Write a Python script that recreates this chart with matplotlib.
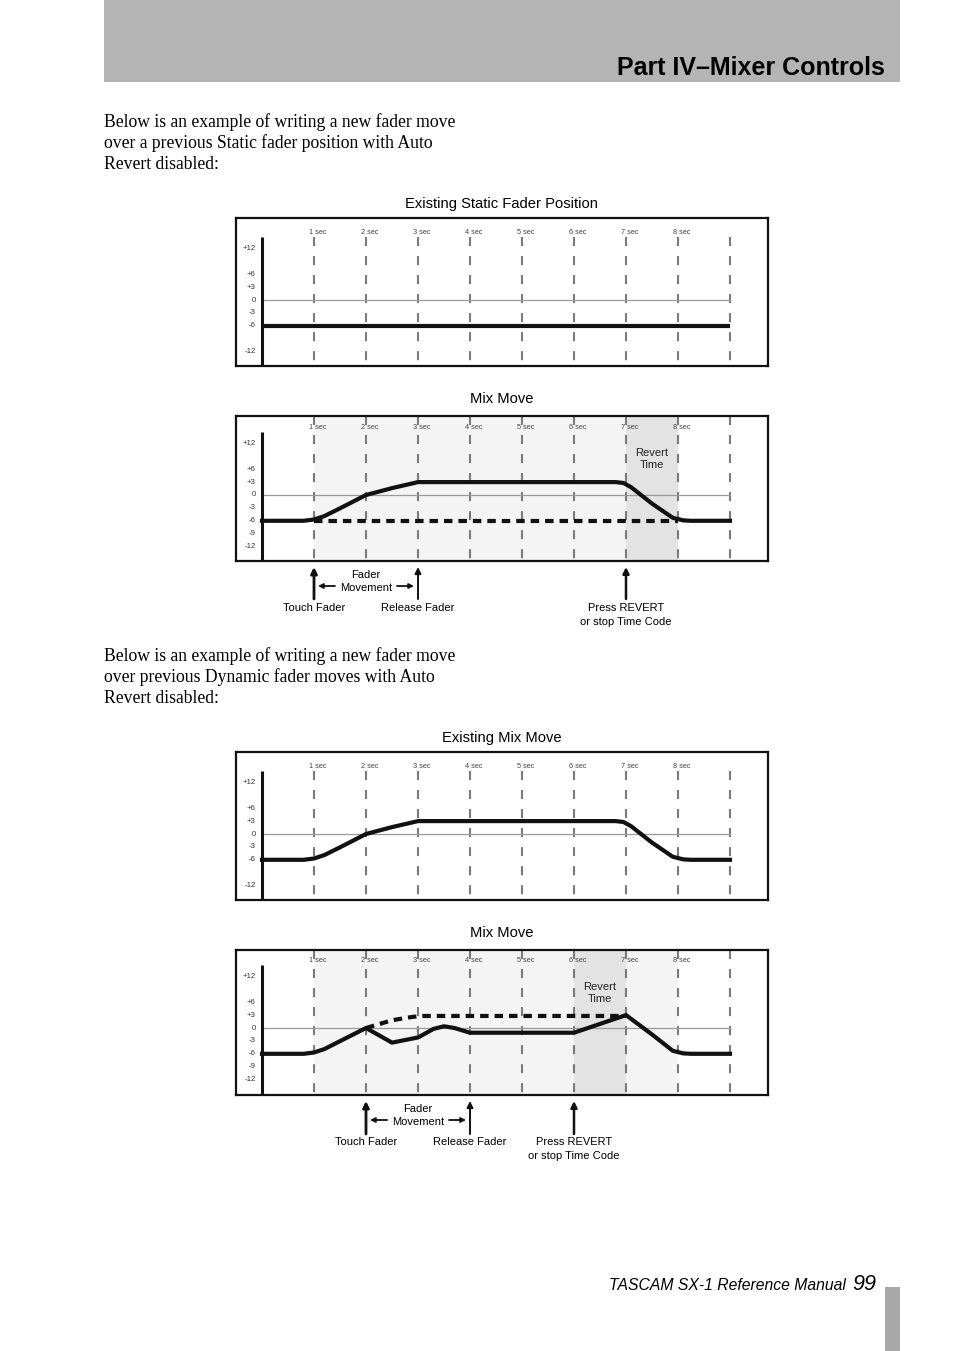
import matplotlib
matplotlib.use('Agg')
import matplotlib.pyplot as plt

plt.rcParams['lines.scale_dashes'] = False
SANS = ['Liberation Sans', 'DejaVu Sans']
SERIF = ['Liberation Serif', 'DejaVu Serif']
plt.rcParams['font.family'] = SANS

W, H, DPI = 954, 1351, 100

# ---------------- data ----------------
sec_pos = [1, 2, 3, 4, 5, 6, 7, 8]
sec_labels = ['1 sec', '2 sec', '3 sec', '4 sec', '5 sec', '6 sec', '7 sec', '8 sec']
grid_secs = [1, 2, 3, 4, 5, 6, 7, 8, 9]

db_ticks_a = [12, 6, 3, 0, -3, -6, -12]
db_labels_a = ['+12', '+6', '+3', '0', '-3', '-6', '-12']
db_ticks_b = [12, 6, 3, 0, -3, -6, -9, -12]
db_labels_b = ['+12', '+6', '+3', '0', '-3', '-6', '-9', '-12']

# panel 1: existing static fader position
static_t = [0, 9]
static_v = [-6, -6]

# panel 2 / 3: mix move curve
move_t = [0, 0.8, 1.0, 1.2, 1.5, 2.0, 2.5, 3.0, 6.8, 6.95, 7.1, 7.5, 7.9, 8.1, 8.25, 9]
move_v = [-6, -6, -5.7, -4.9, -3.1, 0, 1.6, 3, 3, 2.8, 1.8, -2, -5.3, -5.9, -6, -6]
static_dash_t = [1, 8]
static_dash_v = [-6, -6]

# panel 4: new mix move over dynamic moves
mix2_t = [0, 0.8, 1.0, 1.2, 2.0, 2.5, 3.0, 3.3, 3.5, 3.7, 4.0, 6.0, 7.0, 7.5, 7.9, 8.1, 8.25, 9]
mix2_v = [-6, -6, -5.7, -4.9, 0, -3.4, -2.2, -0.2, 0.4, 0.0, -1.1, -1.1, 3.0, -1.5, -5.3, -5.9, -6, -6]
mix2_dash_t = [2.0, 2.5, 2.9, 3.1, 7.0]
mix2_dash_v = [0, 1.8, 2.6, 2.8, 2.8]

# shading spans (seconds)
p2_light = (1, 7)
p2_dark = (7, 8)
p4_light = (1, 8)
p4_dark = (6, 7)

# ---------------- figure ----------------
fig = plt.figure(figsize=(W / DPI, H / DPI), dpi=DPI)
fig.patch.set_facecolor('white')

page = fig.add_axes([0, 0, 1, 1], zorder=0)
page.set_xlim(0, W)
page.set_ylim(H, 0)
page.axis('off')

# header bar
page.add_patch(plt.Rectangle((104, 0), 796, 82, color='#b4b4b4', lw=0))
page.text(885, 75, 'Part IV\u2013Mixer Controls', ha='right', va='baseline',
          fontsize=18, fontweight='bold', color='black', family=SANS)

# body text
para1 = ['Below is an example of writing a new fader move',
         'over a previous Static fader position with Auto',
         'Revert disabled:']
para2 = ['Below is an example of writing a new fader move',
         'over previous Dynamic fader moves with Auto',
         'Revert disabled:']
for i, line in enumerate(para1):
    page.text(104, 127 + 21 * i, line, ha='left', va='baseline', fontsize=12.7, family=SERIF)
for i, line in enumerate(para2):
    page.text(104, 661 + 21 * i, line, ha='left', va='baseline', fontsize=12.7, family=SERIF)

# titles
for txt, y in [('Existing Static Fader Position', 204), ('Mix Move', 399),
               ('Existing Mix Move', 738), ('Mix Move', 933)]:
    page.text(502, y, txt, ha='center', va='center', fontsize=10.6, family=SANS)

# footer
page.text(846, 1290, 'TASCAM SX-1 Reference Manual', ha='right', va='baseline',
          fontsize=11.3, style='italic', family=SANS)
page.text(852, 1290, '99', ha='left', va='baseline', fontsize=15.5, style='italic', family=SANS)
page.add_patch(plt.Rectangle((885, 1287), 15, 64, color='#a8a8a8', lw=0))

PX_PER_DB = 4.3
PX_PER_SEC = 52
X0 = 262


def make_panel(top, bottom, zero_px, ticks, labels, grid_from_top):
    ax = fig.add_axes([236 / W, 1 - bottom / H, 532 / W, (bottom - top) / H], zorder=1)
    ax.set_xlim((236 - X0) / PX_PER_SEC, (768 - X0) / PX_PER_SEC)
    ylo = -(bottom - zero_px) / PX_PER_DB
    yhi = (zero_px - top) / PX_PER_DB
    ax.set_ylim(ylo, yhi)
    ax.set_xticks([])
    ax.set_yticks([])
    for s in ax.spines.values():
        s.set_linewidth(1.6)
        s.set_color('#111111')
    gtop = yhi if grid_from_top else 14.7
    for t in grid_secs:
        ax.plot([t, t], [gtop, ylo], color='#7a7a7a', lw=1.5,
                linestyle=(0, (6.5, 7.2)), solid_capstyle='butt', dash_capstyle='butt', zorder=2)
    ax.plot([0, 9], [0, 0], color='#9a9a9a', lw=0.9, zorder=2)
    ax.plot([0, 0], [14.7, ylo], color='#111111', lw=2.2, solid_capstyle='butt', zorder=3)
    for v, lab in zip(ticks, labels):
        ax.text(-0.12, v, lab, ha='right', va='center', fontsize=5.6, color='#333333')
    for t, lab in zip(sec_pos, sec_labels):
        ax.text(t - 0.1, 15.8, lab, ha='left', va='center', fontsize=5.3, color='#444444',
                zorder=4)
    return ax


LW = 3.0

# panel 1
ax1 = make_panel(218, 366, 300, db_ticks_a, db_labels_a, False)
ax1.plot(static_t, static_v, color='#111111', lw=LW, solid_capstyle='butt', zorder=5)

# panel 2
ax2 = make_panel(416, 561, 495, db_ticks_b, db_labels_b, True)
ax2.axvspan(*p2_light, color='#f4f4f4', lw=0, zorder=0)
ax2.axvspan(*p2_dark, color='#e3e3e3', lw=0, zorder=0)
ax2.plot(static_dash_t, static_dash_v, color='#111111', lw=LW,
         linestyle=(0, (6.1, 4.3)), dash_capstyle='butt', zorder=5)
ax2.plot(move_t, move_v, color='#111111', lw=LW, solid_joinstyle='round', zorder=6)
ax2.text(7.5, 8.4, 'Revert\nTime', ha='center', va='center', fontsize=8, color='#222222',
         linespacing=1.3)

# panel 3
ax3 = make_panel(752, 900, 834, db_ticks_a, db_labels_a, False)
ax3.plot(move_t, move_v, color='#111111', lw=LW, solid_joinstyle='round', zorder=6)

# panel 4
ax4 = make_panel(950, 1095, 1028, db_ticks_b, db_labels_b, True)
ax4.axvspan(*p4_light, color='#f4f4f4', lw=0, zorder=0)
ax4.axvspan(*p4_dark, color='#e3e3e3', lw=0, zorder=0)
ax4.plot(mix2_dash_t, mix2_dash_v, color='#111111', lw=LW,
         linestyle=(0, (6.1, 4.3)), dash_capstyle='butt', zorder=5)
ax4.plot(mix2_t, mix2_v, color='#111111', lw=LW, solid_joinstyle='round', zorder=6)
ax4.text(6.5, 8.2, 'Revert\nTime', ha='center', va='center', fontsize=8, color='#222222',
         linespacing=1.3)


# annotations under panels
def up_arrow(x, ytip, ybase, lw):
    page.annotate('', xy=(x, ytip), xytext=(x, ybase),
                  arrowprops=dict(arrowstyle='-|>', lw=lw, color='#111111',
                                  mutation_scale=9, shrinkA=0, shrinkB=0))


def side_arrow(x0, x1, y):
    page.annotate('', xy=(x1, y), xytext=(x0, y),
                  arrowprops=dict(arrowstyle='-|>', lw=1.3, color='#111111',
                                  mutation_scale=7, shrinkA=0, shrinkB=0))


def annotations(xt, xr, xp, ytip, ybase, ylab):
    up_arrow(xt, ytip, ybase, 2.0)
    up_arrow(xr, ytip, ybase, 1.4)
    up_arrow(xp, ytip, ybase, 1.8)
    xm = (xt + xr) / 2
    page.text(xm, ylab - 33, 'Fader', ha='center', va='center', fontsize=8)
    page.text(xm, ylab - 20, 'Movement', ha='center', va='center', fontsize=8)
    side_arrow(xt + 21, xt + 4, ylab - 22)
    side_arrow(xr - 21, xr - 4, ylab - 22)
    page.text(xt, ylab, 'Touch Fader', ha='center', va='center', fontsize=8)
    page.text(xr, ylab, 'Release Fader', ha='center', va='center', fontsize=8)
    page.text(xp, ylab, 'Press REVERT', ha='center', va='center', fontsize=8)
    page.text(xp, ylab + 14, 'or stop Time Code', ha='center', va='center', fontsize=8)


annotations(314, 418, 626, 567, 599, 608)
annotations(366, 470, 574, 1101, 1134, 1142)

fig.savefig('out.png', dpi=DPI, facecolor='white')
